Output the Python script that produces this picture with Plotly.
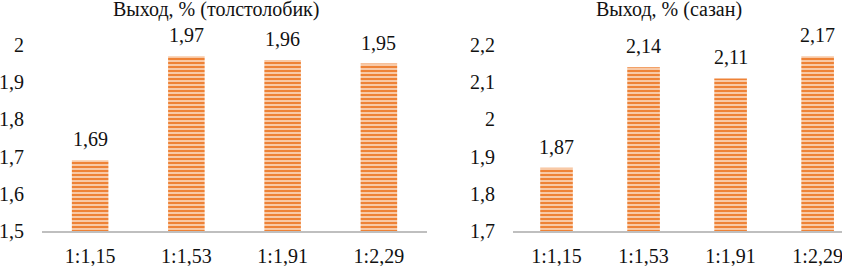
import plotly.graph_objects as go

categories = ["1:1,15", "1:1,53", "1:1,91", "1:2,29"]
silver_carp = [1.69, 1.97, 1.96, 1.95]
carp = [1.87, 2.14, 2.11, 2.17]
title_left = "Выход, % (толстолобик)"
title_right = "Выход, % (сазан)"

FONT = "Liberation Serif"
TXT = "#111111"
ORANGE = "#EE8236"
LIGHT = "#FCE0CA"

def fmt(v):
    return f"{v:.2f}".replace(".", ",")

fig = go.Figure()

for vals, xa, ya, w in [(silver_carp, "x", "y", 0.38), (carp, "x2", "y2", 0.375)]:
    fig.add_trace(go.Bar(
        x=categories, y=vals, xaxis=xa, yaxis=ya, width=w,
        marker=dict(color=ORANGE, line=dict(width=0),
                    pattern=dict(shape="-", size=4, solidity=0.62,
                                 fgcolor=ORANGE, bgcolor=LIGHT, fillmode="replace")),
        showlegend=False, hoverinfo="skip",
    ))

annotations = []
for vals, xa, ya in [(silver_carp, "x", "y"), (carp, "x2", "y2")]:
    for c, v in zip(categories, vals):
        annotations.append(dict(x=c, y=v, xref=xa, yref=ya, text=fmt(v),
                                showarrow=False, yanchor="bottom", yshift=8,
                                font=dict(family=FONT, size=20, color=TXT)))

annotations.append(dict(x=216/842, y=1.0, xref="paper", yref="paper", text=title_left,
                        showarrow=False, xanchor="center", yanchor="top", yshift=3, borderpad=0,
                        font=dict(family=FONT, size=20, color=TXT)))
annotations.append(dict(x=669/842, y=1.0, xref="paper", yref="paper", text=title_right,
                        showarrow=False, xanchor="center", yanchor="top", yshift=3, borderpad=0,
                        font=dict(family=FONT, size=20, color=TXT)))

ydom = [35/266, 221/266]
axis_font = dict(family=FONT, size=20, color=TXT)

fig.update_layout(
    width=842, height=266,
    margin=dict(l=0, r=0, t=0, b=0, autoexpand=False),
    paper_bgcolor="white", plot_bgcolor="white",
    separators=", ",
    font=dict(family=FONT),
    annotations=annotations,
    xaxis=dict(domain=[42/842, 427/842], type="category", range=[-0.5, 3.5],
               showline=True, linecolor="#BFBFBF", linewidth=2, showgrid=False,
               ticks="outside", ticklen=6, tickcolor="rgba(0,0,0,0)", automargin=False,
               tickfont=axis_font, zeroline=False, fixedrange=True),
    yaxis=dict(domain=ydom, range=[1.5, 2.0], dtick=0.1, tick0=1.5,
               showline=False, showgrid=False, zeroline=False, automargin=False,
               ticks="outside", ticklen=13, tickcolor="rgba(0,0,0,0)",
               tickfont=axis_font, fixedrange=True),
    xaxis2=dict(domain=[513/842, 1.0], type="category", range=[-0.5, 3.28],
                anchor="y2", automargin=False,
                showline=True, linecolor="#BFBFBF", linewidth=2, showgrid=False,
                ticks="outside", ticklen=6, tickcolor="rgba(0,0,0,0)",
                tickfont=axis_font, zeroline=False, fixedrange=True),
    yaxis2=dict(domain=ydom, range=[1.7, 2.2], dtick=0.1, tick0=1.7, anchor="x2",
                showline=False, showgrid=False, zeroline=False, automargin=False,
                ticks="outside", ticklen=13, tickcolor="rgba(0,0,0,0)",
                tickfont=axis_font, fixedrange=True),
)

fig.write_html("out.html", config={"displayModeBar": False},
               post_script="document.body.style.margin='0';document.body.style.padding='0';")
